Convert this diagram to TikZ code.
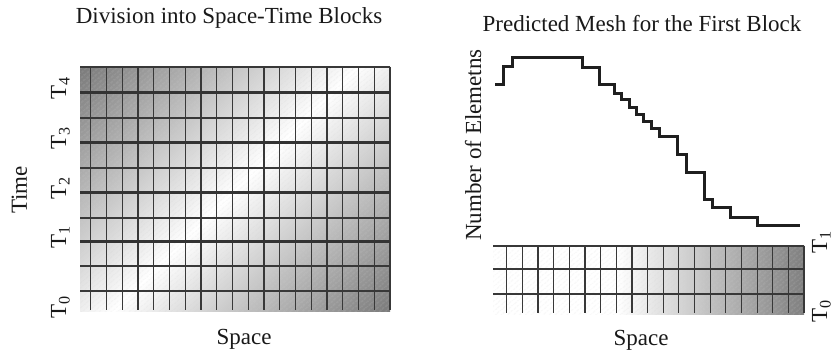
\documentclass[tikz,border=0pt]{standalone}
\usepackage{fontspec}
\setmainfont{Liberation Serif}
\usetikzlibrary{patterns.meta}
\pgfdeclareverticalshading{diagshade}{100bp}{color(0bp)=(black!52); color(14.6bp)=(black!52); color(50bp)=(white); color(85.4bp)=(black!52); color(100bp)=(black!52)}
\pgfdeclarehorizontalshading{rightshade}{100bp}{color(0bp)=(white); color(25bp)=(white); color(45bp)=(white); color(75bp)=(black!50); color(100bp)=(black!50)}
\begin{document}
\begin{tikzpicture}[x=1pt,y=-1pt,
  lbl/.style={font=\fontsize{23}{27}\selectfont, inner sep=0pt, text=black!90},
  gridthin/.style={draw=black!78, line width=1.2pt},
  gridthick/.style={draw=black!80, line width=3pt},
  hatch/.style={pattern={Lines[angle=40,distance=4pt,line width=0.4pt]}, pattern color=black!18},
  stair/.style={draw=black!88, line width=3pt, line join=miter}]
\useasboundingbox (0,0) rectangle (836,352);
\clip (0,0) rectangle (836,352);
\fill[white] (0,0) rectangle (836,352);

% ---------- left panel ----------
\shade[shading=diagshade, shading angle=45] (80,67) rectangle (390,312);
\fill[hatch] (80,67) rectangle (390,312);
\foreach \i in {0,...,19} \draw[gridthin] ({90.7+15.75*\i},67) -- ({90.7+15.75*\i},310);
\foreach \y in {118,168,218,266,291} \draw[gridthin] (80,\y) -- (390,\y);
\foreach \y in {93,143,193,242} \draw[gridthick] (80,\y) -- (390,\y);
\draw[gridthin, line width=2pt] (80,67) -- (390,67);

\node[lbl, anchor=base] (title1) at (229,24) {Division into Space-Time Blocks};
\node[lbl, anchor=base] (space1) at (244,345) {Space};
\node[lbl, rotate=90, anchor=base] (time) at (27,190) {Time};
\node[lbl, rotate=90, anchor=base west] (T4) at (66,100) {T\textsubscript{4}};
\node[lbl, rotate=90, anchor=base west] (T3) at (66,150) {T\textsubscript{3}};
\node[lbl, rotate=90, anchor=base west] (T2) at (66,200) {T\textsubscript{2}};
\node[lbl, rotate=90, anchor=base west] (T1) at (66,249) {T\textsubscript{1}};
\node[lbl, rotate=90, anchor=base west] (T0) at (66,319) {T\textsubscript{0}};

% ---------- right panel ----------
\shade[shading=rightshade] (493,246) rectangle (804,315);
\fill[hatch] (493,246) rectangle (804,315);
\foreach \i in {0,...,19} \draw[gridthin] ({506.7+15.65*\i},246) -- ({506.7+15.65*\i},313);
\foreach \y in {269,294} \draw[gridthin] (493,\y) -- (804,\y);
\draw[gridthin, line width=2.5pt] (493,246) -- (804,246);

\draw[stair] (495,85) -- (503,85) -- (503,67) -- (512,67) -- (512,58) -- (582,58)
  -- (582,68) -- (599,68) -- (599,85) -- (614,85) -- (614,94) -- (621,94)
  -- (621,100) -- (629,100) -- (629,108) -- (636,108) -- (636,115) -- (643,115)
  -- (643,122) -- (651,122) -- (651,129) -- (659,129) -- (659,137) -- (677,137)
  -- (677,155) -- (686,155) -- (686,173) -- (704,173) -- (704,200) -- (712,200)
  -- (712,208) -- (730,208) -- (730,218) -- (757,218) -- (757,226) -- (800,226);

\node[lbl, anchor=base] (title2) at (642,32) {Predicted Mesh for the First Block};
\node[lbl, anchor=base] (space2) at (641,346) {Space};
\node[lbl, rotate=90, anchor=base] (nelem) at (481,145) {Number of Elemetns};
\node[lbl, rotate=90, anchor=base west] (RT1) at (827,254) {T\textsubscript{1}};
\node[lbl, rotate=90, anchor=base west] (RT0) at (827,323) {T\textsubscript{0}};
\end{tikzpicture}
\end{document}
